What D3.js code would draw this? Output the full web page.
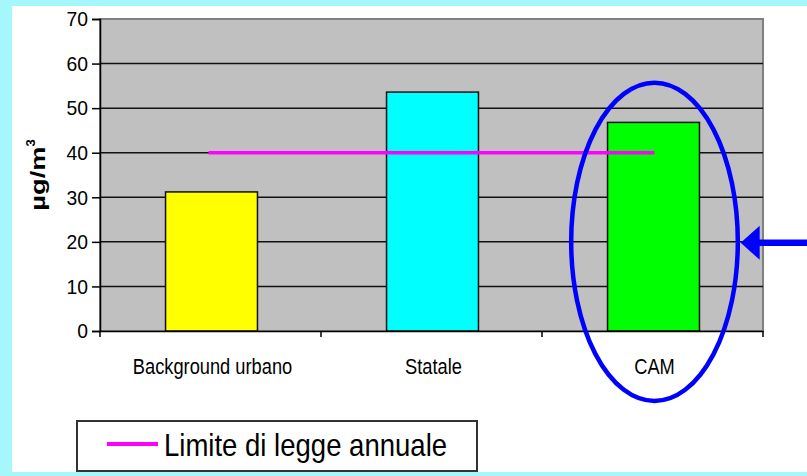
<!DOCTYPE html>
<html>
<head>
<meta charset="utf-8">
<script src="https://cdn.jsdelivr.net/npm/d3@7/dist/d3.min.js"></script>
<style>
  html, body { margin: 0; padding: 0; background: #a5f7fb; }
  svg { display: block; }
  text { font-family: "Liberation Sans", Arial, sans-serif; }
</style>
</head>
<body>
<svg id="chart" width="807" height="476"></svg>
<script>
// ---- data ----
const categories = ["Background urbano", "Statale", "CAM"];
const values = [31.2, 53.6, 46.8];
const barColors = ["#ffff00", "#00ffff", "#00ff00"];
const yTicks = [0, 10, 20, 30, 40, 50, 60, 70];
const limitValue = 40;
const limitLabel = "Limite di legge annuale";
const yTitle = "µg/m";
const yTitleSup = "3";
const highlighted = "CAM";

// ---- layout ----
const W = 807, H = 476;
const plot = { left: 100, right: 763, top: 19, bottom: 331 };
const svg = d3.select("#chart");

const x = d3.scaleBand().domain(categories).range([plot.left, plot.right]).paddingInner(0.584).paddingOuter(0.292);
const xb = d3.scaleBand().domain(categories).range([plot.left, plot.right]);
const y = d3.scaleLinear().domain([0, 70]).range([plot.bottom, plot.top]);

// compress text horizontally (the original appears horizontally narrowed)
function squeeze(sel, k) {
  sel.each(function () {
    const len = this.getComputedTextLength();
    d3.select(this).attr("textLength", len * k).attr("lengthAdjust", "spacingAndGlyphs");
  });
}

// background
svg.append("rect").attr("x", 0).attr("y", 0).attr("width", W).attr("height", H).attr("fill", "#a5f7fb");
svg.append("rect").attr("x", 12).attr("y", 6).attr("width", W - 12).attr("height", 466).attr("fill", "#ffffff");

// plot area
svg.append("rect")
  .attr("x", plot.left).attr("y", plot.top)
  .attr("width", plot.right - plot.left).attr("height", plot.bottom - plot.top)
  .attr("fill", "#c0c0c0").attr("stroke", "#808080").attr("stroke-width", 2);

// gridlines
svg.append("g").selectAll("line").data(yTicks.filter(d => d > 0 && d < 70)).join("line")
  .attr("x1", plot.left).attr("x2", plot.right)
  .attr("y1", d => y(d)).attr("y2", d => y(d))
  .attr("stroke", "#111").attr("stroke-width", 1.5);

// bars
svg.append("g").selectAll("rect").data(categories).join("rect")
  .attr("x", d => x(d) + 1).attr("width", x.bandwidth())
  .attr("y", (d, i) => y(values[i])).attr("height", (d, i) => y(0) - y(values[i]))
  .attr("fill", (d, i) => barColors[i]).attr("stroke", "#111").attr("stroke-width", 1.5);

// limit line (from first to last category centre)
svg.append("line")
  .attr("x1", xb(categories[0]) + xb.bandwidth() / 2 - 2)
  .attr("x2", xb(categories[categories.length - 1]) + xb.bandwidth() / 2 + 2)
  .attr("y1", y(limitValue)).attr("y2", y(limitValue))
  .attr("stroke", "#ff00ff").attr("stroke-width", 3.5);

// y axis
const yAxis = svg.append("g").attr("transform", `translate(${plot.left},0)`)
  .call(d3.axisLeft(y).tickValues(yTicks).tickSize(8).tickPadding(4));
yAxis.select(".domain").attr("stroke", "#000").attr("stroke-width", 1.5);
yAxis.selectAll(".tick line").attr("stroke", "#000").attr("stroke-width", 1.5);
yAxis.selectAll(".tick text")
  .attr("font-size", 21).attr("fill", "#000").attr("font-family", "'Liberation Sans', Arial, sans-serif")
  .call(squeeze, 0.92);

// x axis
const xAxis = svg.append("g").attr("transform", `translate(0,${plot.bottom})`)
  .call(d3.axisBottom(xb).tickSize(0).tickPadding(27));
xAxis.select(".domain").attr("stroke", "#000").attr("stroke-width", 1.5);
xAxis.selectAll(".tick text")
  .attr("font-size", 22).attr("fill", "#000").attr("font-family", "'Liberation Sans', Arial, sans-serif")
  .attr("dx", 2)
  .call(squeeze, 0.83);
// category separator ticks
svg.append("g").selectAll("line").data(categories.concat(["__end"])).join("line")
  .attr("x1", (d, i) => i < categories.length ? xb(d) : plot.right)
  .attr("x2", (d, i) => i < categories.length ? xb(d) : plot.right)
  .attr("y1", plot.bottom).attr("y2", plot.bottom + 6)
  .attr("stroke", "#000").attr("stroke-width", 1.5);

// y title
const yt = svg.append("text")
  .attr("transform", `translate(45, ${(y(30) + y(40)) / 2}) rotate(-90)`)
  .attr("text-anchor", "middle").attr("font-size", 21).attr("font-weight", "bold").attr("fill", "#000");
const ytMain = yt.append("tspan").text(yTitle);
yt.append("tspan").attr("font-size", 13).attr("dy", -10).text(yTitleSup);
ytMain.attr("textLength", ytMain.node().getComputedTextLength() * 1.3).attr("lengthAdjust", "spacingAndGlyphs");

// highlight ellipse and arrow
const cxE = xb(highlighted) + xb.bandwidth() / 2 + 2;
const cyE = y(20);
svg.append("ellipse")
  .attr("cx", cxE).attr("cy", cyE)
  .attr("rx", xb.bandwidth() * 0.377).attr("ry", y(0) - y(35.7))
  .attr("fill", "none").attr("stroke", "#0000ff").attr("stroke-width", 4.5);
const tipX = cxE + xb.bandwidth() * 0.39;
svg.append("line")
  .attr("x1", tipX + 15).attr("x2", W)
  .attr("y1", cyE + 1).attr("y2", cyE + 1)
  .attr("stroke", "#0000ff").attr("stroke-width", 6.5);
svg.append("path")
  .attr("d", d3.line()([[tipX, cyE + 1], [tipX + 19, cyE - 16], [tipX + 19, cyE + 18]]) + "Z")
  .attr("fill", "#0000ff");

// legend
svg.append("rect")
  .attr("x", 77).attr("y", 421).attr("width", 400).attr("height", 50)
  .attr("fill", "#ffffff").attr("stroke", "#333").attr("stroke-width", 2);
svg.append("line")
  .attr("x1", 107).attr("x2", 158).attr("y1", 444).attr("y2", 444)
  .attr("stroke", "#ff00ff").attr("stroke-width", 4);
svg.append("text")
  .attr("x", 164).attr("y", 456)
  .attr("font-size", 32).attr("fill", "#000")
  .text(limitLabel)
  .call(squeeze, 0.86);
</script>
</body>
</html>
